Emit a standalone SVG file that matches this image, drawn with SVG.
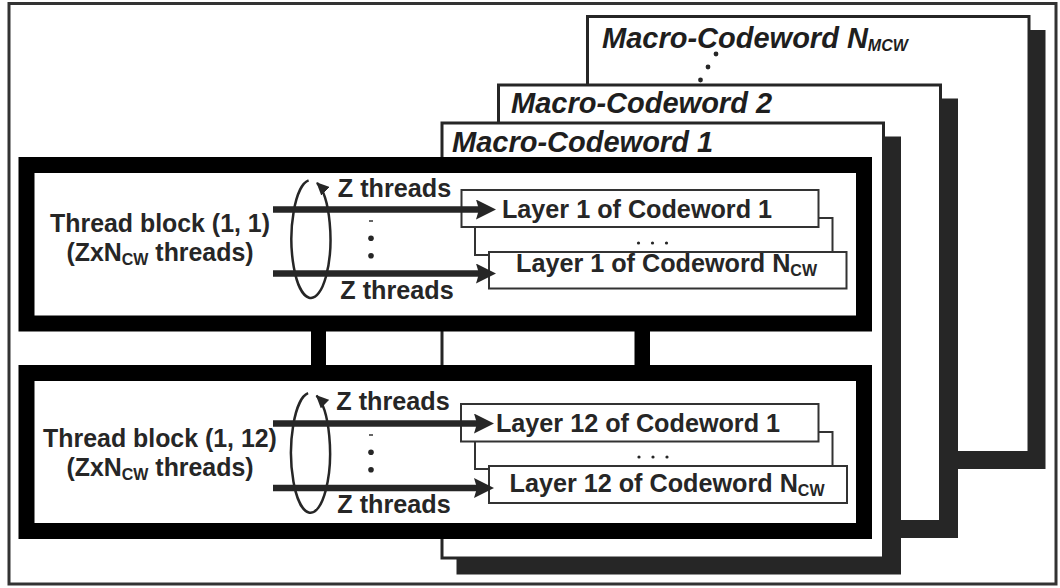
<svg xmlns="http://www.w3.org/2000/svg" width="1060" height="588" viewBox="0 0 1060 588">
  <style>
    .frame { fill: #ffffff; stroke: #333333; stroke-width: 3; }
    .card { fill: #ffffff; stroke: #262626; stroke-width: 3; }
    .shadow { fill: #262626; }
    .block { fill: #ffffff; stroke: #000000; stroke-width: 16; }
    .link { fill: #000000; }
    .layer { fill: #ffffff; stroke: #333333; stroke-width: 2; }
    .mcw { font-family: "Liberation Sans", Arial, sans-serif; font-weight: bold; font-style: italic; font-size: 29px; fill: #1e1e1e; }
    .lbl { font-family: "Liberation Sans", Arial, sans-serif; font-weight: bold; font-size: 25.2px; fill: #262626; }
    .big { font-size: 24.9px; }
    .sub { font-size: 16px; }
    .shaft { stroke: #262626; stroke-width: 6.5; fill: none; }
    .loop { stroke: #262626; stroke-width: 2.5; fill: none; }
    .dot { fill: #262626; }
  </style>
  <defs>
    <marker id="head" markerUnits="userSpaceOnUse" markerWidth="20" markerHeight="20" refX="6" refY="10" orient="auto">
      <path d="M0,0 L20,10 L0,20 L3,10 z" fill="#262626"/>
    </marker>
    <marker id="loophead" markerUnits="userSpaceOnUse" markerWidth="13" markerHeight="12" refX="12" refY="6" orient="auto">
      <path d="M0,0 L13,6 L0,12 z" fill="#262626"/>
    </marker>
  </defs>

  <!-- outer border -->
  <rect class="frame" x="9" y="3.5" width="1047" height="580.5"/>

  <!-- stacked macro-codeword cards, back to front -->
  <g id="card-mcw-n">
    <rect class="shadow" x="601" y="30" width="444.5" height="439"/>
    <rect class="card" x="587.5" y="16.5" width="441.5" height="436"/>
    <text class="mcw" x="602" y="48" font-size="32">Macro-Codeword N<tspan font-size="16" dy="3">MCW</tspan></text>
    <circle class="dot" cx="716" cy="54" r="2.4"/>
    <circle class="dot" cx="708" cy="67" r="2.4"/>
    <circle class="dot" cx="700.5" cy="80" r="2.4"/>
  </g>
  <g id="card-mcw-2">
    <rect class="shadow" x="513" y="98.5" width="445" height="439.5"/>
    <rect class="card" x="498.5" y="85" width="442" height="436.5"/>
    <text class="mcw" x="511" y="113">Macro-Codeword 2</text>
  </g>
  <g id="card-mcw-1">
    <rect class="shadow" x="456.5" y="136.5" width="444.5" height="438"/>
    <rect class="card" x="442" y="123" width="441.5" height="435"/>
    <text class="mcw" x="452" y="152">Macro-Codeword 1</text>
  </g>

  <!-- links between the two thread blocks -->
  <g id="connectors">
    <rect class="link" x="311" y="330" width="15" height="36"/>
    <rect class="link" x="634.5" y="330" width="15.5" height="36"/>
  </g>

  <!-- thread block (1, 1) -->
  <g id="block-1-1">
    <rect class="block" x="26.5" y="165" width="837.5" height="158.5"/>
    <text class="lbl big" x="160" y="232" text-anchor="middle">Thread block (1, 1)</text>
    <text class="lbl big" x="160" y="261" text-anchor="middle">(ZxN<tspan class="sub" dy="4">CW</tspan><tspan dy="-4"> threads)</tspan></text>
    <g id="layers-1">
      <rect class="layer" x="475" y="218" width="357.5" height="37"/>
      <rect class="layer" x="461.5" y="190" width="357" height="37"/>
      <rect class="layer" x="489" y="252" width="357.5" height="36.5"/>
      <text class="lbl" x="637" y="218" text-anchor="middle">Layer 1 of Codeword 1</text>
      <circle class="dot" cx="638.5" cy="243" r="1.6"/>
      <circle class="dot" cx="652.5" cy="243" r="1.6"/>
      <circle class="dot" cx="666.5" cy="243" r="1.6"/>
      <text class="lbl" x="666.5" y="272" text-anchor="middle">Layer 1 of Codeword N<tspan class="sub" dy="4">CW</tspan></text>
    </g>
    <path class="loop" d="M308.6,180.4 A19.5,59 0 1 0 317,182.9" marker-end="url(#loophead)"/>
    <line class="shaft" x1="273" y1="209.5" x2="482" y2="209.5" marker-end="url(#head)"/>
    <line class="shaft" x1="273" y1="273.5" x2="482" y2="273.5" marker-end="url(#head)"/>
    <text class="lbl" x="394.5" y="197" text-anchor="middle">Z threads</text>
    <text class="lbl" x="397" y="299" text-anchor="middle">Z threads</text>
    <rect x="369" y="220" width="4" height="2" fill="#666666"/>
    <circle class="dot" cx="371" cy="238.3" r="2.8"/>
    <circle class="dot" cx="371" cy="255.7" r="2.8"/>
  </g>

  <!-- thread block (1, 12) -->
  <g id="block-1-12">
    <rect class="block" x="26.5" y="373" width="837.5" height="158"/>
    <text class="lbl big" x="160" y="447" text-anchor="middle">Thread block (1, 12)</text>
    <text class="lbl big" x="160" y="476" text-anchor="middle">(ZxN<tspan class="sub" dy="4">CW</tspan><tspan dy="-4"> threads)</tspan></text>
    <g id="layers-12">
      <rect class="layer" x="475" y="432" width="357.5" height="37"/>
      <rect class="layer" x="461" y="404" width="357.5" height="37.5"/>
      <rect class="layer" x="489" y="466" width="358" height="37"/>
      <text class="lbl" x="638" y="432" text-anchor="middle">Layer 12 of Codeword 1</text>
      <circle class="dot" cx="639" cy="457" r="1.6"/>
      <circle class="dot" cx="653" cy="457" r="1.6"/>
      <circle class="dot" cx="667" cy="457" r="1.6"/>
      <text class="lbl" x="667" y="492" text-anchor="middle">Layer 12 of Codeword N<tspan class="sub" dy="4">CW</tspan></text>
    </g>
    <path class="loop" d="M308.1,393.2 A19.5,60 0 1 0 316.5,395.6" marker-end="url(#loophead)"/>
    <line class="shaft" x1="273" y1="423.5" x2="480" y2="423.5" marker-end="url(#head)"/>
    <line class="shaft" x1="273" y1="488" x2="480" y2="488" marker-end="url(#head)"/>
    <text class="lbl" x="393" y="410" text-anchor="middle">Z threads</text>
    <text class="lbl" x="394" y="513" text-anchor="middle">Z threads</text>
    <rect x="369" y="434" width="4" height="2" fill="#666666"/>
    <circle class="dot" cx="371" cy="452.3" r="2.8"/>
    <circle class="dot" cx="371" cy="469.7" r="2.8"/>
  </g>
</svg>
